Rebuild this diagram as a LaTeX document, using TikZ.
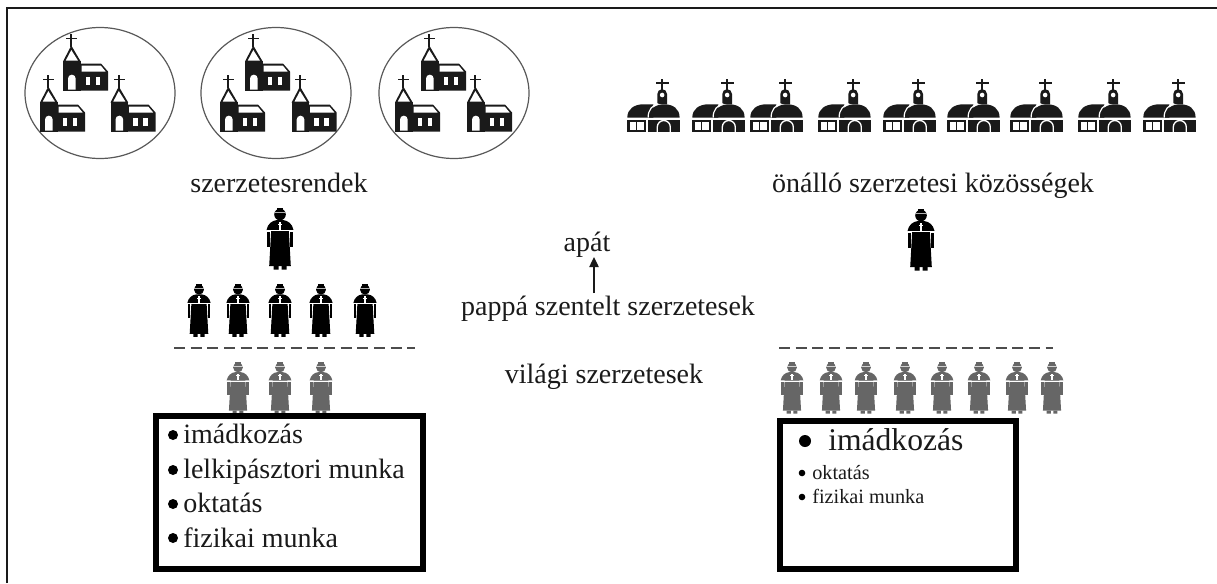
\documentclass[tikz,border=0pt]{standalone}
\usepackage{fontspec}
\setmainfont{Liberation Serif}
\usetikzlibrary{arrows.meta,shapes.geometric}
\definecolor{ink}{HTML}{1A1A1A}
\definecolor{friar}{HTML}{666666}
\tikzset{
  label21/.style={font=\fontsize{21}{24}\selectfont,text=ink,inner sep=0pt,anchor=base},
  item21/.style={font=\fontsize{21}{24}\selectfont,text=ink,inner sep=0pt,anchor=base west},
  itembig/.style={font=\fontsize{23.7}{26}\selectfont,text=ink,inner sep=0pt,anchor=base west},
  itemsmall/.style={font=\fontsize{15.2}{18}\selectfont,text=ink,inner sep=0pt,anchor=base west},
  listbox/.style={draw=black,line width=4.3pt,fill=white},
  parishes/.style={draw=black!65,line width=0.9pt,ellipse,inner sep=0pt,minimum width=112.5pt,minimum height=98.25pt},
  dashline/.style={draw=black!70,line width=1.3pt,dash pattern=on 8.3pt off 4.2pt},
  bullet/.style={fill=black},
  pics/churcha/.style={code={
    \fill[ink] (7.4,-57) rectangle (9.2,-44);
    \fill[ink] (3.3,-53) rectangle (14,-51.2);
    \fill[ink] (0,-29) -- (8.3,-45) -- (17.7,-29) -- cycle;
    \fill[white] (2.8,-30) -- (8.3,-40.5) -- (14.9,-30) -- cycle;
    \fill[ink] (0,-30) rectangle (17.7,0);
    \fill[ink] (17,-27) -- (38,-27) -- (45,-19) -- (45,0) -- (17,0) -- cycle;
    \fill[white] (18.5,-25) -- (37.7,-25) -- (42.7,-19) -- (18.5,-19) -- cycle;
    \fill[white] (5,-1) -- (5,-12) arc[start angle=180,end angle=360,radius=3.85] -- (12.7,-1) -- cycle;
    \fill[white] (22.7,-13.3) rectangle (27.3,-5.7);
    \fill[white] (32.7,-13.3) rectangle (37.3,-5.7);
  }},
  pics/churchb/.style={code={
    \fill[ink] (33.8,-53) rectangle (35.8,-42);
    \fill[ink] (28.3,-50) rectangle (41.7,-48);
    \fill[ink] (30,-28) -- (30,-38) arc[start angle=180,end angle=360,radius=4.85] -- (39.7,-28) -- cycle;
    \fill[white] (34.85,-37) circle[radius=2.3];
    \fill[ink] (0,-14.5) .. controls (0,-23) and (7,-27.7) .. (16,-27.7) -- (26,-27.7) -- (26,-14.5) -- cycle;
    \fill[ink] (21.7,-14.5) .. controls (21.7,-23) and (28,-27.7) .. (37,-27.7) .. controls (46,-27.7) and (52.3,-23) .. (52.3,-14.5) -- cycle;
    \draw[white,line width=0.9pt] (20.8,-14.5) .. controls (20.8,-22) and (25,-27) .. (31,-28.3);
    \fill[ink] (0,-11.7) rectangle (52.3,0);
    \fill[white] (2.3,-10.2) rectangle (9,-2.3);
    \fill[white] (10,-10.2) rectangle (16.7,-2.3);
    \fill[white] (19,-11.7) rectangle (20.5,0);
    \draw[white,line width=1pt] (30,0) -- (30,-5) arc[start angle=180,end angle=360,radius=6.5] -- (43,0);
    \fill[white] (-0.5,-14.5) rectangle (52.8,-12.7);
  }},
  pics/friarfig/.style={code={
    \fill[#1] (0,6.5) circle[radius=5.8];
    \fill[#1] (-3,0) rectangle (3,3);
    \draw[white!70!#1,line width=0.8pt] (-5.6,4.8) -- (5.6,4.8);
    \fill[#1] (-3,12) -- (3,12) .. controls (8,12.5) and (12.5,16) .. (13.5,22) -- (-13.5,22) .. controls (-12.5,16) and (-8,12.5) .. (-3,12) -- cycle;
    \fill[#1] (-8.8,22) -- (8.8,22) -- (10.8,58) -- (-10.8,58) -- cycle;
    \fill[#1] (-12.8,23.5) rectangle (-10,39);
    \fill[#1] (10,23.5) rectangle (12.8,39);
    \fill[#1] (-6.5,58) rectangle (-1.5,61.5) (1.5,58) rectangle (6.5,61.5);
    \draw[white,line width=0.7pt] (-13.5,22.8) -- (13.5,22.8);
    \fill[white] (-0.7,14) rectangle (0.7,22);
    \fill[white] (-2,16) rectangle (2,17.2);
  }}
}
\begin{document}
\begin{tikzpicture}[x=0.75pt,y=-0.75pt]
\useasboundingbox (0,0) rectangle (1217,583);
\fill[white] (0,0) rectangle (1217,583);
% frame
\coordinate (frameBL) at (7,583);
\coordinate (frameTL) at (7,8);
\coordinate (frameTR) at (1217,8);
\draw[ink,line width=1.5pt] (frameBL) -- (frameTL) -- (frameTR);
% groups of churches
\foreach \cx/\nm/\ta/\tb/\tc in {100/one/63/40/110.5,276/two/245/220/291.7,454/three/421/395/467}{
  \node[parishes] (group\nm) at (\cx,93) {};
  \pic at (\ta,90.5) {churcha};
  \pic at (\tb,131.5) {churcha};
  \pic at (\tc,131.5) {churcha};
}
% independent monasteries
\foreach \cx in {662,727,785,853,918,982,1045,1113,1178}{
  \pic at (\cx-34.7,132) {churchb};
}
% labels
\node[label21] (orders) at (279,192) {szerzetesrendek};
\node[label21] (indep) at (933,192) {önálló szerzetesi közösségek};
\node[label21] (apat) at (587,251) {apát};
\node[label21] (pappa) at (608,315) {pappá szentelt szerzetesek};
\node[label21] (vilagi) at (604,383) {világi szerzetesek};
\coordinate (arrowfoot) at (594,293);
\coordinate (arrowtip) at (594,257);
\draw[ink,line width=1pt,-{Triangle[length=7.5pt,width=7pt]}] (arrowfoot) -- (arrowtip);
% monks
\pic at (280,208) {friarfig=black};
\pic at (921,209) {friarfig=black};
\foreach \cx in {199,238,280,321,365}{
  \pic[scale=0.86] at (\cx,284) {friarfig=black};
}
\foreach \cx in {238,280,321}{
  \pic[scale=0.84] at (\cx,362) {friarfig=friar};
}
\foreach \cx in {792,831,866,905,942,979,1017,1052}{
  \pic[scale=0.84] at (\cx,362) {friarfig=friar};
}
% dashed separators
\coordinate (dashLa) at (174,348);
\coordinate (dashLb) at (415,348);
\coordinate (dashRa) at (779,348);
\coordinate (dashRb) at (1053,348);
\path[dashline] (dashLa) -- (dashLb);
\path[dashline] (dashRa) -- (dashRb);
% left box
\draw[listbox] (156,416) rectangle (423,569);
\foreach \by/\bl/\tn/\tx in {435/443/ia/imádkozás,470/478/ib/lelkipásztori munka,504/512/ic/oktatás,538/547/id/fizikai munka}{
  \fill[bullet] (173,\by) circle[radius=5];
  \node[item21] (\tn) at (183,\bl) {\tx};
}
% right box
\draw[listbox] (780,421) rectangle (1016,569);
\fill[bullet] (805,441) circle[radius=6];
\node[itembig] (ja) at (828,450) {imádkozás};
\fill[bullet] (802,473) circle[radius=3.3];
\node[itemsmall] (jb) at (812,479) {oktatás};
\fill[bullet] (802,497) circle[radius=3.3];
\node[itemsmall] (jc) at (812,503) {fizikai munka};
\end{tikzpicture}
\end{document}
